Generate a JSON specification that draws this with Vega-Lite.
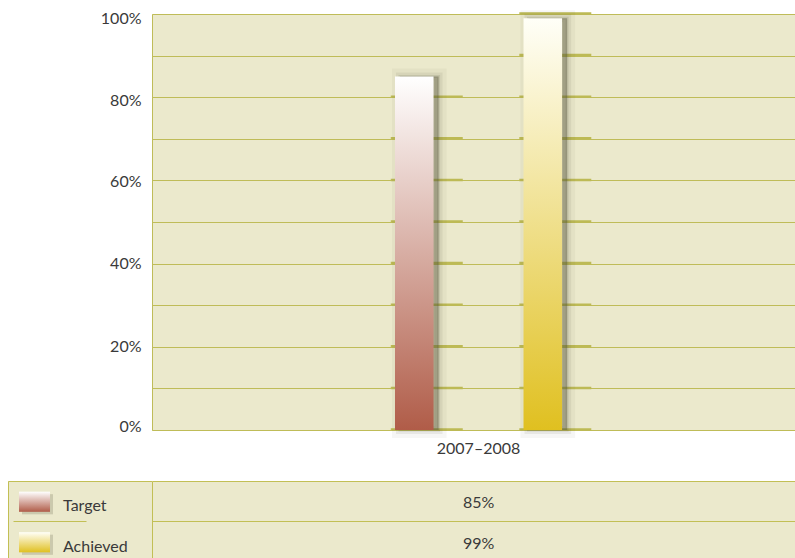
{
  "$schema": "https://vega.github.io/schema/vega-lite/v6.json",
  "background": "white",
  "autosize": {"type": "pad"},
  "padding": {"left": 8, "top": 10, "right": 0, "bottom": 0},
  "spacing": 25,
  "config": {
    "font": "Lato",
    "axis": {"labelFont": "Lato", "labelFontSize": 16, "labelColor": "#3a3a3a", "title": null},
    "view": {"stroke": null}
  },
  "datasets": {
    "results": [
      {"period": "2007–2008", "series": "Target", "value": 0.85},
      {"period": "2007–2008", "series": "Achieved", "value": 0.99}
    ],
    "floor": [
      {"period": "2007–2008", "series": "Target", "value": 0.0},
      {"period": "2007–2008", "series": "Target", "value": 0.1},
      {"period": "2007–2008", "series": "Target", "value": 0.2},
      {"period": "2007–2008", "series": "Target", "value": 0.3},
      {"period": "2007–2008", "series": "Target", "value": 0.4},
      {"period": "2007–2008", "series": "Target", "value": 0.5},
      {"period": "2007–2008", "series": "Target", "value": 0.6},
      {"period": "2007–2008", "series": "Target", "value": 0.7},
      {"period": "2007–2008", "series": "Target", "value": 0.8},
      {"period": "2007–2008", "series": "Achieved", "value": 0.0},
      {"period": "2007–2008", "series": "Achieved", "value": 0.1},
      {"period": "2007–2008", "series": "Achieved", "value": 0.2},
      {"period": "2007–2008", "series": "Achieved", "value": 0.3},
      {"period": "2007–2008", "series": "Achieved", "value": 0.4},
      {"period": "2007–2008", "series": "Achieved", "value": 0.5},
      {"period": "2007–2008", "series": "Achieved", "value": 0.6},
      {"period": "2007–2008", "series": "Achieved", "value": 0.7},
      {"period": "2007–2008", "series": "Achieved", "value": 0.8},
      {"period": "2007–2008", "series": "Achieved", "value": 0.9},
      {"period": "2007–2008", "series": "Achieved", "value": 1.0}
    ]
  },
  "vconcat": [
    {
      "spacing": 0,
      "bounds": "flush",
      "hconcat": [
        {
          "width": 144,
          "height": 416,
          "view": {"fill": null, "stroke": null},
          "data": {"values": [{"a": 1}]},
          "mark": {"type": "point", "opacity": 0},
          "encoding": {}
        },
        {
          "width": 643,
          "height": 416,
          "view": {"fill": "#EBE9CC", "stroke": null},
          "resolve": {"scale": {"xOffset": "independent"}},
          "encoding": {
            "x": {
              "field": "period", "type": "nominal",
              "scale": {"paddingInner": 0, "paddingOuter": 0.258, "align": 0.523},
              "axis": {"labelAngle": 0, "ticks": false, "domainColor": "#BFBC58", "labelPadding": 10}
            },
            "y": {
              "field": "value", "type": "quantitative",
              "scale": {"domain": [0, 1]},
              "axis": {
                "values": [0, 0.1, 0.2, 0.3, 0.4, 0.5, 0.6, 0.7, 0.8, 0.9, 1],
                "format": ".0%",
                "labelExpr": "round(datum.value*10) % 2 === 0 ? datum.label : ''",
                "grid": true, "gridColor": "#BFBC58", "gridWidth": 1,
                "ticks": false, "domainColor": "#BFBC58",
                "labelPadding": 11,
                "labelOffset": {
                  "condition": [
                    {"test": "datum.value > 0.9", "value": 4},
                    {"test": "datum.value > 0.7", "value": 3},
                    {"test": "datum.value > 0.5", "value": 0.6},
                    {"test": "datum.value > 0.3", "value": 0},
                    {"test": "datum.value > 0.1", "value": -0.8}
                  ],
                  "value": -4
                }
              }
            }
          },
          "layer": [
            {
              "data": {"name": "floor"},
              "mark": {"type": "tick", "orient": "horizontal", "size": 72, "thickness": 2.5, "color": "#BDBA55", "opacity": 1, "yOffset": -0.5},
              "encoding": {
                "xOffset": {"field": "series", "type": "nominal", "sort": ["Target", "Achieved"],
                  "scale": {"paddingInner": 0.7, "paddingOuter": 1, "align": 0.5486}}
              }
            },
            {
              "data": {"name": "results"},
              "layer": [
                {"mark": {"type": "bar", "fill": "#55553d", "fillOpacity": 0.1, "stroke": "#55553d", "strokeOpacity": 0.05, "strokeWidth": 16}},
                {"mark": {"type": "bar", "fill": "#55553d", "fillOpacity": 0.16, "stroke": "#55553d", "strokeOpacity": 0.09, "strokeWidth": 8}},
                {"mark": {"type": "bar", "fill": "#55553d", "fillOpacity": 0.22, "stroke": "#55553d", "strokeOpacity": 0.14, "strokeWidth": 3}}
              ],
              "encoding": {
                "xOffset": {"field": "series", "type": "nominal", "sort": ["Target", "Achieved"],
                  "scale": {"paddingInner": 0.7, "paddingOuter": 1, "align": 0.5195}}
              }
            },
            {
              "data": {"name": "results"},
              "mark": {"type": "bar"},
              "encoding": {
                "xOffset": {"field": "series", "type": "nominal", "sort": ["Target", "Achieved"],
                  "scale": {"paddingInner": 0.7, "paddingOuter": 1, "align": 0.5}},
                "fill": {
                  "condition": {
                    "test": "datum.series === 'Target'",
                    "value": {"gradient": "linear", "x1": 0, "y1": 0, "x2": 0, "y2": 1,
                      "stops": [{"offset": 0, "color": "#FFFFFF"}, {"offset": 1, "color": "#B05C48"}]}
                  },
                  "value": {"gradient": "linear", "x1": 0, "y1": 0, "x2": 0, "y2": 1,
                    "stops": [{"offset": 0, "color": "#FFFFF8"}, {"offset": 1, "color": "#E0C020"}]}
                }
              }
            }
          ]
        }
      ]
    },
    {
      "spacing": 0,
      "bounds": "flush",
      "hconcat": [
        {
          "width": 144,
          "height": 77,
          "view": {"fill": "#EBE9CC", "stroke": null},
          "data": {"name": "results"},
          "encoding": {
            "y": {
              "field": "series", "type": "nominal", "sort": ["Target", "Achieved"],
              "scale": {"type": "band", "paddingInner": 0.099, "paddingOuter": 0, "align": 0},
              "axis": {
                "labels": false, "ticks": false, "domainColor": "#C2BF55",
                "grid": true, "gridColor": "#C2BF55", "bandPosition": 0,
                "gridDash": {"condition": {"test": "datum.value === 'Achieved'", "value": [0, 5, 73, 1000]}, "value": []}
              }
            }
          },
          "layer": [
            {
              "mark": {"type": "point", "shape": "M-1,-0.65H1V0.65H-1Z", "size": 961, "filled": true, "fill": "#6b6b50", "opacity": 0.25, "strokeWidth": 0, "xOffset": 3, "yOffset": 5},
              "encoding": {"x": {"datum": 0.184, "type": "quantitative", "scale": {"domain": [0, 1]}, "axis": null}}
            },
            {
              "mark": {"type": "point", "shape": "M-1,-0.65H1V0.65H-1Z", "size": 961, "filled": true, "opacity": 1, "strokeWidth": 0, "yOffset": 2.5},
              "encoding": {
                "x": {"datum": 0.184, "type": "quantitative", "scale": {"domain": [0, 1]}, "axis": null},
                "fill": {
                  "condition": {
                    "test": "datum.series === 'Target'",
                    "value": {"gradient": "linear", "x1": 0, "y1": 0, "x2": 0, "y2": 1,
                      "stops": [{"offset": 0, "color": "#FFFFFF"}, {"offset": 1, "color": "#B05C48"}]}
                  },
                  "value": {"gradient": "linear", "x1": 0, "y1": 0, "x2": 0, "y2": 1,
                    "stops": [{"offset": 0, "color": "#FFFFF8"}, {"offset": 1, "color": "#E0C020"}]}
                }
              }
            },
            {
              "mark": {"type": "text", "align": "left", "baseline": "alphabetic", "fontSize": 16, "color": "#3a3a3a", "yOffset": 11.8},
              "encoding": {
                "x": {"datum": 0.382, "type": "quantitative", "scale": {"domain": [0, 1]}, "axis": null},
                "text": {"field": "series", "type": "nominal"}
              }
            }
          ]
        },
        {
          "width": 643,
          "height": 77,
          "view": {"fill": "#EBE9CC", "stroke": null},
          "data": {"name": "results"},
          "mark": {"type": "text", "align": "center", "baseline": "alphabetic", "fontSize": 16, "color": "#3a3a3a", "yOffset": 8.85},
          "encoding": {
            "y": {
              "field": "series", "type": "nominal", "sort": ["Target", "Achieved"],
              "scale": {"type": "band", "paddingInner": 0.099, "paddingOuter": 0, "align": 0},
              "axis": {
                "labels": false, "ticks": false, "domainColor": "#C2BF55",
                "grid": true, "gridColor": "#C2BF55", "bandPosition": 0
              }
            },
            "x": {"datum": 0.508, "type": "quantitative", "scale": {"domain": [0, 1]}, "axis": null},
            "text": {"field": "value", "type": "quantitative", "format": ".0%"}
          }
        }
      ]
    }
  ]
}
